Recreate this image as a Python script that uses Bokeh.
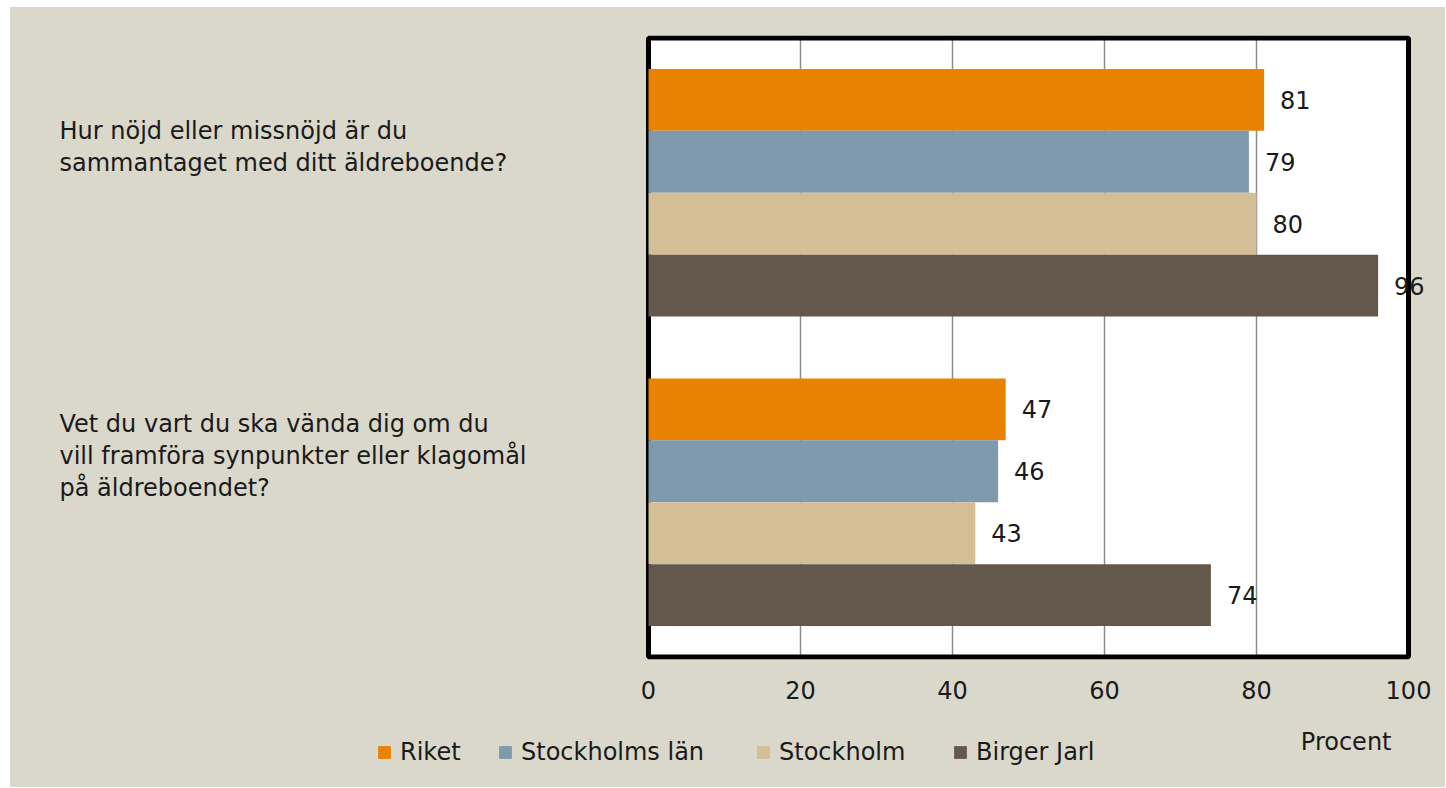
from bokeh.plotting import figure
from bokeh.layouts import column
from bokeh.models import (FactorRange, Range1d, ColumnDataSource, Label,
                          Legend, LegendItem, FixedTicker, BoxAnnotation)
from bokeh.transform import dodge
from bokeh.core.properties import value
from bokeh.embed import file_html
from bokeh.resources import INLINE

# ---------------- data ----------------
categories = [
    "Hur nöjd eller missnöjd är du sammantaget med ditt äldreboende?",
    "Vet du vart du ska vända dig om du vill framföra synpunkter eller klagomål på äldreboendet?",
]
category_lines = [
    ["Hur nöjd eller missnöjd är du", "sammantaget med ditt äldreboende?"],
    ["Vet du vart du ska vända dig om du", "vill framföra synpunkter eller klagomål", "på äldreboendet?"],
]
series_names = ["Riket", "Stockholms län", "Stockholm", "Birger Jarl"]
riket = [81, 47]
stockholms_lan = [79, 46]
stockholm = [80, 43]
birger_jarl = [96, 74]
x_ticks = [0, 20, 40, 60, 80, 100]
x_title = "Procent"

# ---------------- style / layout ----------------
colors = ["#E88200", "#7E9AAC", "#D3BE96", "#64574B"]
FONT = "DejaVu Sans"
TXT = "#1a1a1a"
FS = "24px"
BG = "#DAD8CB"

W = 1435          # figure width (page x 10 .. 1445)
H_MAIN = 713      # page y 7 .. 720
H_BOT = 67
PX_PER_UNIT = 7.6  # 0 -> page x 648, 100 -> page x 1408
X0_PAGE = 648 - 10
x_start = -X0_PAGE / PX_PER_UNIT
x_end = (W - X0_PAGE) / PX_PER_UNIT

series_values = [riket, stockholms_lan, stockholm, birger_jarl]

p = figure(width=W, height=H_MAIN,
           y_range=FactorRange(factors=categories[::-1], range_padding=5 / 619,
                               range_padding_units="percent"),
           x_range=Range1d(x_start, x_end),
           output_backend="svg", toolbar_location=None)
p.min_border_left = 0
p.min_border_right = 0
p.min_border_top = 28
p.min_border_bottom = 61
p.background_fill_color = BG
p.border_fill_color = BG
p.outline_line_color = None

p.yaxis.visible = False
p.ygrid.grid_line_color = None
p.xgrid.ticker = FixedTicker(ticks=x_ticks[1:-1])
p.xgrid.grid_line_color = "#8C8C8C"
p.xgrid.grid_line_width = 1.5
p.xaxis.ticker = FixedTicker(ticks=x_ticks)
p.xaxis.axis_line_color = None
p.xaxis.major_tick_line_color = None
p.xaxis.minor_tick_line_color = None
p.xaxis.major_tick_out = 0
p.xaxis.major_tick_in = 0
p.xaxis.major_label_standoff = 21
p.xaxis.major_label_text_font = FONT
p.xaxis.major_label_text_font_size = FS
p.xaxis.major_label_text_color = TXT

n_cat = len(categories)
# white plot area below the grid, black border above it
p.add_layout(BoxAnnotation(left=x_ticks[0], right=x_ticks[-1], bottom=0, top=n_cat,
                           fill_color="white", fill_alpha=1, line_color=None, level="image"))
p.add_layout(BoxAnnotation(left=x_ticks[0], right=x_ticks[-1], bottom=0, top=n_cat,
                           fill_alpha=0, line_color="black", line_width=5, line_alpha=1,
                           level="underlay"))

bar_h = 0.2
for k, (name, vals) in enumerate(zip(series_names, series_values)):
    off = 0.3 - bar_h * k
    src = ColumnDataSource(dict(cat=categories, val=vals, txt=[str(v) for v in vals]))
    p.hbar(y=dodge("cat", off, range=p.y_range), right="val", left=0, height=bar_h,
           source=src, fill_color=colors[k], line_color=None)
    p.text(x="val", y=dodge("cat", off, range=p.y_range), text="txt", source=src,
           x_offset=16, text_align="left", text_baseline="middle",
           text_font=value(FONT), text_font_size=FS, text_color=TXT)

# category labels on the left
cy, lt, lo = [], [], []
line_h = 32
for cat, lines in zip(categories, category_lines):
    n = len(lines)
    for i, ln in enumerate(lines):
        cy.append(cat)
        lt.append(ln)
        lo.append(-46 + (i - (n - 1) / 2) * line_h)
csrc = ColumnDataSource(dict(y=cy, t=lt, yo=lo, x=[x_ticks[0]] * len(cy)))
p.text(x="x", y="y", text="t", y_offset="yo", x_offset=-589, source=csrc,
       text_align="left", text_baseline="middle",
       text_font=value(FONT), text_font_size=FS, text_color=TXT)

# ---------------- bottom strip: legend + axis title ----------------
b = figure(width=W, height=H_BOT, x_range=Range1d(0, W), y_range=Range1d(0, H_BOT),
           output_backend="svg", toolbar_location=None)
b.min_border_left = b.min_border_right = b.min_border_top = b.min_border_bottom = 0
b.axis.visible = False
b.grid.visible = False
b.outline_line_color = None
b.background_fill_color = BG
b.border_fill_color = BG

b.add_layout(Label(x=1381, y=46, text=x_title, text_align="right",
                   text_baseline="middle", text_font=FONT, text_font_size=FS,
                   text_color=TXT))

# legend swatches: dummy renderers placed outside the visible strip
legend_x = [366, 487, 745, 942]
for k, name in enumerate(series_names):
    r = b.hbar(y=[-1000], right=[1], left=0, height=1, fill_color=colors[k], line_color=None)
    lg = Legend(items=[LegendItem(label=name, renderers=[r])],
                location=(legend_x[k], 21), padding=0, margin=0,
                border_line_color=None, background_fill_alpha=0,
                glyph_width=16, glyph_height=16, label_standoff=8,
                label_text_font=FONT, label_text_font_size=FS, label_text_color=TXT)
    b.add_layout(lg, "center")

layout = column(p, b, spacing=0, margin=(7, 0, 0, 10),
                styles={"background-color": BG})

open("out.html", "w").write(file_html(layout, INLINE))
